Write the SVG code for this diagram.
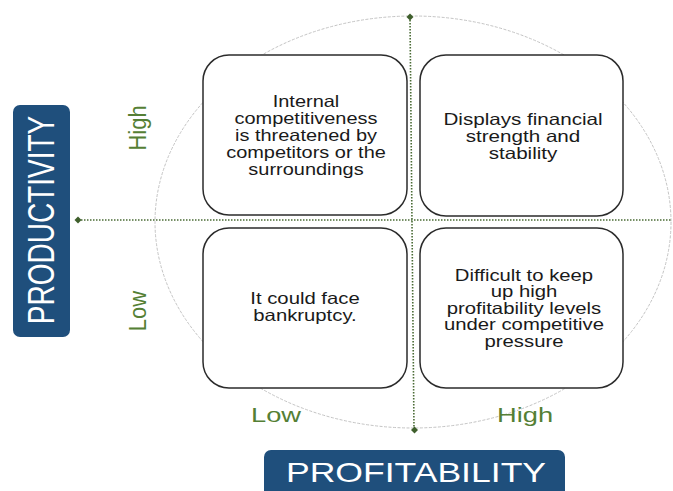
<svg xmlns="http://www.w3.org/2000/svg" width="673" height="491" viewBox="0 0 673 491">
<style>
.box{fill:#ffffff;stroke:#2b2b2b;stroke-width:1.5}
.bt{font-family:"Liberation Sans",Arial,sans-serif;font-size:16.5px;fill:#1a1a1a;text-anchor:middle}
.lbl{font-family:"Liberation Sans",Arial,sans-serif;font-size:21px;fill:#557f35;text-anchor:middle}
.lbl2{font-family:"Liberation Sans",Arial,sans-serif;font-size:22px;fill:#557f35;text-anchor:middle}
.axbox{fill:#1f4f7c}
.axt{font-family:"Liberation Sans",Arial,sans-serif;font-size:28px;fill:#ffffff;text-anchor:middle}
.axis{stroke:#4a6b35;stroke-width:1.6;stroke-dasharray:1.5 1.5;fill:none}
.dot{fill:#3f5f2c}
</style>
<rect width="673" height="491" fill="#ffffff"/>
<ellipse cx="413" cy="222" rx="258" ry="206" fill="none" stroke="#c4c4c4" stroke-width="1" stroke-dasharray="3 1.5"/>
<g id="connectors">
<line class="axis" x1="78" y1="220" x2="672" y2="220"/>
<line class="axis" x1="410" y1="17" x2="414" y2="430"/>
<path class="dot" d="M78 216.5 L81.5 220 L78 223.5 L74.5 220 Z"/>
<path class="dot" d="M410 13.5 L413.5 17 L410 20.5 L406.5 17 Z"/>
<path class="dot" d="M414.5 426.5 L418 430 L414.5 433.5 L411 430 Z"/>
</g>
<g id="q-high-productivity-low-profitability">
<rect class="box" x="203" y="55" width="204" height="160" rx="26"/>
<g transform="translate(306 0) scale(1.21 1)">
<text class="bt" x="0" y="107">Internal</text>
<text class="bt" x="0" y="124">competitiveness</text>
<text class="bt" x="0" y="141">is threatened by</text>
<text class="bt" x="0" y="158">competitors or the</text>
<text class="bt" x="0" y="175">surroundings</text>
</g>
</g>
<g id="q-high-productivity-high-profitability">
<rect class="box" x="420" y="55" width="203" height="161" rx="26"/>
<g transform="translate(523 0) scale(1.25 1)">
<text class="bt" x="0" y="125">Displays financial</text>
<text class="bt" x="0" y="142">strength and</text>
<text class="bt" x="0" y="159">stability</text>
</g>
</g>
<g id="q-low-productivity-low-profitability">
<rect class="box" x="203" y="228" width="204" height="160" rx="26"/>
<g transform="translate(305 0) scale(1.23 1)">
<text class="bt" x="0" y="304">It could face</text>
<text class="bt" x="0" y="321">bankruptcy.</text>
</g>
</g>
<g id="q-low-productivity-high-profitability">
<rect class="box" x="420" y="228" width="203" height="160" rx="26"/>
<g transform="translate(524 0) scale(1.23 1)">
<text class="bt" x="0" y="281">Difficult to keep</text>
<text class="bt" x="0" y="297.5">up high</text>
<text class="bt" x="0" y="314">profitability levels</text>
<text class="bt" x="0" y="330.5">under competitive</text>
<text class="bt" x="0" y="347">pressure</text>
</g>
</g>
<g id="labels">
<text class="lbl" transform="translate(276 422) scale(1.3 1)">Low</text>
<text class="lbl" transform="translate(525 422) scale(1.3 1)">High</text>
<text class="lbl2" transform="translate(146 128) scale(1.1 1) rotate(-90)">High</text>
<text class="lbl2" transform="translate(146 311) scale(1.1 1) rotate(-90)">Low</text>
</g>
<g id="productivity">
<rect class="axbox" x="13" y="105" width="57" height="232" rx="7"/>
<text class="axt" transform="translate(54 220) scale(1.3 1) rotate(-90)">PRODUCTIVITY</text>
</g>
<g id="profitability">
<rect class="axbox" x="264" y="450" width="301" height="50" rx="7"/>
<text class="axt" transform="translate(416 482) scale(1.27 1)">PROFITABILITY</text>
</g>
</svg>
